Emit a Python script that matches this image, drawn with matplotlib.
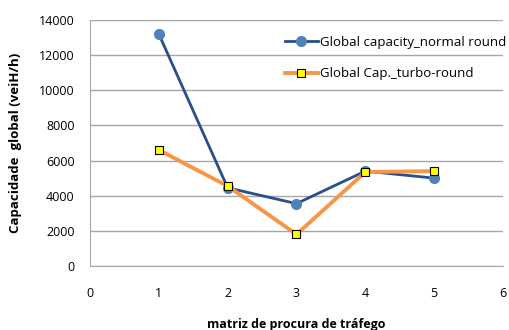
import matplotlib.pyplot as plt

matriz = [1, 2, 3, 4, 5]
cap_normal = [13200, 4450, 3550, 5400, 5000]
cap_turbo = [6600, 4550, 1800, 5350, 5400]

plt.rcParams['font.family'] = ['Open Sans', 'DejaVu Sans']

fig = plt.figure(figsize=(5.09, 3.30), dpi=100)
ax = fig.add_axes([90/509, 1 - 266/330, 413/509, 246/330])

ax.plot(matriz, cap_normal, color='#2A4D8C', lw=2, marker='o', ms=7,
        mfc='#4F81BD', mec='#4F81BD', label='Global capacity_normal round', zorder=3)
ax.plot(matriz, cap_turbo, color='#F79646', lw=2.8, marker='s', ms=5.5,
        mfc='#FFFF00', mec='black', mew=0.8, label='Global Cap._turbo-round', zorder=4)

ax.set_xlim(0, 6)
ax.set_ylim(0, 14000)
ax.set_yticks(range(0, 14001, 2000))
ax.set_xticks(range(0, 7))
ax.grid(axis='y', color='#A6A6A6', lw=1)
ax.set_axisbelow(True)
for s in ['top', 'right']:
    ax.spines[s].set_visible(False)
for s in ['left', 'bottom']:
    ax.spines[s].set_color('#A6A6A6')
ax.tick_params(length=0, labelsize=9, colors='black')
ax.tick_params(axis='y', pad=11)
ax.tick_params(axis='x', pad=15)

ax.set_ylabel('Capacidade  global (veiH/h)', fontsize=9.5, fontweight='bold', labelpad=12)
ax.set_xlabel('matriz de procura de tráfego', fontsize=9, fontweight='bold')
ax.xaxis.set_label_coords(0.5, -0.21)

ax.legend(loc='upper left', bbox_to_anchor=((285 - 90) / 413, 0.935), frameon=False,
          fontsize=9.5, borderpad=0, borderaxespad=0,
          handlelength=2.5, handletextpad=0.15, labelspacing=1.4)

fig.savefig('out.png', dpi=100)
